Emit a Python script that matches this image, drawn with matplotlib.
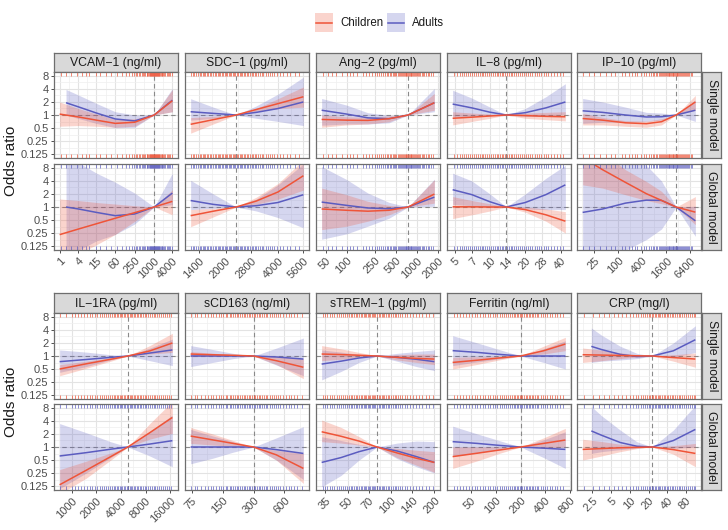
import numpy as np
import matplotlib
matplotlib.use("Agg")
import matplotlib.pyplot as plt
from matplotlib.ticker import FixedLocator, FixedFormatter, NullFormatter
from matplotlib.patches import Rectangle

plt.rcParams['font.family'] = ['Liberation Sans', 'DejaVu Sans']

# ---------------- data ----------------
GROUPS = ["Children", "Adults"]
MODELS = ["Single model", "Global model"]
Y_TICKS = [0.125, 0.25, 0.5, 1, 2, 4, 8]
Y_LABELS = ["0.125", "0.25", "0.5", "1", "2", "4", "8"]

# VCAM-1
VCAM_TITLE = "VCAM\u22121 (ng/ml)"
VCAM_TICKS = [1, 4, 15, 60, 250, 1000, 4000]
VCAM_REF = 1050
VCAM_X_CH = [1, 4, 15, 60, 250, 1050, 4000]
VCAM_X_AD = [1.6, 4, 15, 60, 250, 1050, 4000]
VCAM_S_CH = [[1.05, 0.90, 0.76, 0.64, 0.68, 1, 2.14], [0.55, 0.57, 0.55, 0.52, 0.55, 1, 1.19], [2.0, 1.41, 1.05, 0.79, 0.82, 1, 3.86]]
VCAM_S_AD = [[1.92, 1.54, 1.11, 0.81, 0.73, 1, 2.2], [1.0, 0.83, 0.64, 0.51, 0.52, 1, 1.19], [3.89, 2.89, 1.85, 1.19, 1.0, 1, 4.1]]
VCAM_G_CH = [[0.23, 0.31, 0.41, 0.55, 0.74, 1, 1.35], [0.054, 0.082, 0.134, 0.233, 0.467, 1, 0.66], [1.53, 1.41, 1.27, 1.17, 1.07, 1, 2.5]]
VCAM_G_AD = [[1.0, 0.9, 0.75, 0.63, 0.69, 1, 2.1], [0.0625, 0.1, 0.165, 0.233, 0.406, 1, 1.13], [16, 10.6, 6.06, 3.73, 2.1, 1, 6.06]]
VCAM_RUG = [1.1, 1.6, 2.3, 3.5, 5, 7, 9, 14, 20, 30, 45, 70, 100, 130, 170, 200, 230, 270, 300, 340, 380, 420,
            460, 500, 550, 600, 640, 680, 720, 760, 800, 830, 860, 890, 920, 950, 980, 1010, 1050, 1090, 1120,
            1160, 1200, 1250, 1300, 1350, 1400, 1480, 1550, 1620, 1700, 1800, 1900, 2050, 2200, 2400, 2600,
            2850, 3100, 3400, 3800]

# SDC-1
SDC_TITLE = "SDC\u22121 (pg/ml)"
SDC_TICKS = [1400, 2000, 2800, 4000, 5600]
SDC_REF = 2300
SDC_X_CH = [1260, 1700, 2300, 3000, 4000, 5600]
SDC_X_AD = [1260, 1700, 2300, 3000, 4000, 5600]
SDC_S_CH = [[0.61, 0.78, 1, 1.34, 1.83, 2.64], [0.38, 0.62, 1, 1.23, 1.41, 1.52], [0.87, 0.93, 1, 1.41, 2.38, 4.44]]
SDC_S_AD = [[1.19, 1.09, 1, 1.15, 1.41, 2.0], [0.76, 0.84, 1, 0.84, 0.71, 0.57], [2.38, 1.52, 1, 1.62, 3.03, 7.46]]
SDC_G_CH = [[0.63, 0.8, 1, 1.37, 2.22, 5.28], [0.35, 0.59, 1, 1.15, 1.52, 2.46], [0.87, 0.93, 1, 1.68, 3.48, 12.1]]
SDC_G_AD = [[1.41, 1.15, 1, 1.07, 1.27, 1.92], [0.87, 0.93, 1, 0.81, 0.57, 0.33], [4.14, 2.0, 1, 1.52, 3.25, 9.85]]
SDC_RUG = [1270, 1300, 1320, 1350, 1380, 1420, 1450, 1480, 1500, 1530, 1560, 1590, 1620, 1660, 1700, 1730,
           1760, 1800, 1830, 1870, 1900, 1940, 1980, 2020, 2050, 2090, 2120, 2160, 2200, 2240, 2280, 2330,
           2370, 2410, 2450, 2500, 2550, 2600, 2650, 2700, 2750, 2820, 2880, 2940, 3000, 3080, 3150, 3220,
           3300, 3400, 3500, 3600, 3700, 3820, 3950, 4100, 4300, 4500, 4700, 5000, 5300]

# Ang-2
ANG_TITLE = "Ang\u22122 (pg/ml)"
ANG_TICKS = [50, 100, 250, 500, 1000, 2000]
ANG_REF = 750
ANG_X_CH = [44, 100, 200, 400, 750, 1770]
ANG_X_AD = [44, 100, 200, 400, 750, 1770]
ANG_S_CH = [[0.79, 0.76, 0.75, 0.82, 1, 1.92], [0.52, 0.59, 0.62, 0.7, 1, 1.29], [1.0, 0.91, 0.88, 0.95, 1, 3.14]]
ANG_S_AD = [[1.29, 1.05, 0.86, 0.82, 1, 1.92], [0.58, 0.62, 0.62, 0.66, 1, 1.19], [2.41, 1.69, 1.13, 0.98, 1, 4.1]]
ANG_G_CH = [[0.9, 0.84, 0.8, 0.84, 1, 1.99], [0.3, 0.36, 0.47, 0.66, 1, 1.23], [2.73, 1.92, 1.35, 1.09, 1, 4.26]]
ANG_G_AD = [[1.3, 1.09, 0.95, 0.91, 1, 1.69], [0.18, 0.24, 0.36, 0.55, 1, 1.04], [8.6, 4.3, 2.1, 1.28, 1, 4.4]]
ANG_RUG = [46, 55, 62, 70, 85, 100, 110, 125, 140, 170, 190, 210, 230, 250, 270, 290, 310, 330, 350, 370, 390,
           410, 430, 450, 470, 490, 510, 530, 550, 570, 590, 610, 630, 650, 670, 690, 710, 730, 750, 770, 790,
           810, 835, 860, 885, 910, 940, 970, 1000, 1040, 1080, 1120, 1170, 1220, 1280, 1350, 1420, 1500,
           1600, 1700]

# IL-8
IL8_TITLE = "IL\u22128 (pg/ml)"
IL8_TICKS = [5, 7, 10, 14, 20, 28, 40]
IL8_REF = 13.8
IL8_X_CH = [4.8, 7, 10, 13.8, 20, 30, 44]
IL8_X_AD = [4.8, 7, 10, 13.8, 20, 30, 44]
IL8_S_CH = [[0.84, 0.89, 0.95, 1, 0.97, 0.93, 0.91], [0.59, 0.71, 0.84, 1, 0.84, 0.78, 0.73], [1.19, 1.11, 1.05, 1, 1.11, 1.15, 1.19]]
IL8_S_AD = [[1.79, 1.46, 1.16, 1, 1.13, 1.46, 2.0], [0.9, 0.93, 0.97, 1, 0.93, 0.93, 1.04], [3.73, 2.46, 1.52, 1, 1.41, 2.64, 5.28]]
IL8_G_CH = [[1.01, 1.01, 1.0, 1, 0.87, 0.66, 0.47], [0.54, 0.66, 0.81, 1, 0.76, 0.47, 0.25], [1.74, 1.41, 1.19, 1, 1.0, 0.9, 0.78]]
IL8_G_AD = [[2.51, 1.93, 1.32, 1, 1.27, 1.93, 3.25], [1.15, 1.07, 1.0, 1, 0.9, 0.87, 0.87], [6.06, 4, 2, 1, 2, 4.6, 9.2]]
IL8_RUG = [4.9, 5.2, 5.5, 5.8, 6.0, 6.3, 6.5, 6.8, 7.0, 7.3, 7.6, 7.9, 8.2, 8.5, 8.8, 9.1, 9.5, 9.8, 10.2,
           10.6, 11, 11.4, 11.8, 12.2, 12.6, 13.0, 13.5, 14.0, 14.5, 15.0, 15.5, 16.1, 16.7, 17.3, 18, 18.7,
           19.5, 20.2, 21, 22, 23, 24, 25, 26.2, 27.5, 28.8, 30, 31.5, 33, 35, 37, 39.5, 42]

# IP-10
IP10_TITLE = "IP\u221210 (pg/ml)"
IP10_TICKS = [25, 100, 400, 1600, 6400]
IP10_REF = 2800
IP10_X_CH = [12.6, 40, 150, 500, 1200, 2800, 8500]
IP10_X_AD = [12.6, 40, 150, 500, 1200, 2800, 8500]
IP10_S_CH = [[0.83, 0.76, 0.66, 0.63, 0.7, 1, 2.0], [0.59, 0.59, 0.55, 0.52, 0.59, 1, 1.29], [1.09, 0.88, 0.74, 0.72, 0.82, 1, 2.83]]
IP10_S_AD = [[1.25, 1.15, 1.0, 0.9, 0.91, 1, 1.29], [0.64, 0.68, 0.68, 0.71, 0.76, 1, 0.71], [2.41, 2.0, 1.52, 1.15, 1.11, 1, 2.22]]
IP10_G_CH = [[13.9, 7.26, 3.7, 2.03, 1.42, 1, 0.76], [3.25, 2.73, 1.92, 1.42, 1.19, 1, 0.39], [64, 18.4, 7.26, 3.89, 2.3, 1, 1.74]]
IP10_G_AD = [[0.75, 0.9, 1.23, 1.44, 1.42, 1, 0.48], [0.016, 0.044, 0.1, 0.177, 0.31, 1, 0.21], [64, 32, 16, 9.2, 4, 1, 1.04]]
IP10_RUG = [13, 18, 25, 35, 50, 65, 80, 120, 150, 180, 220, 260, 300, 360, 430, 500, 580, 650, 720, 800, 880,
            950, 1030, 1100, 1180, 1250, 1330, 1400, 1480, 1550, 1620, 1700, 1800, 1900, 2000, 2100, 2200,
            2300, 2400, 2500, 2620, 2750, 2870, 3000, 3150, 3300, 3500, 3700, 3900, 4100, 4350, 4600, 4900,
            5200, 5600, 6000, 6500, 7200]

# IL-1RA
IL1RA_TITLE = "IL\u22121RA (pg/ml)"
IL1RA_TICKS = [1000, 2000, 4000, 8000, 16000]
IL1RA_REF = 4850
IL1RA_X_CH = [710, 1500, 3000, 4850, 9000, 17000]
IL1RA_X_AD = [710, 1500, 3000, 4850, 9000, 17000]
IL1RA_S_CH = [[0.5, 0.66, 0.84, 1, 1.31, 2.0], [0.35, 0.52, 0.76, 1, 1.11, 1.21], [0.63, 0.76, 0.92, 1, 1.74, 3.34]]
IL1RA_S_AD = [[0.74, 0.83, 0.93, 1, 1.17, 1.38], [0.42, 0.57, 0.81, 1, 0.78, 0.6], [1.38, 1.23, 1.07, 1, 1.52, 2.46]]
IL1RA_G_CH = [[0.134, 0.29, 0.6, 1, 2.14, 4.82], [0.082, 0.19, 0.5, 1, 1.52, 2.07], [0.3, 0.47, 0.73, 1, 3.48, 11.3]]
IL1RA_G_AD = [[0.62, 0.74, 0.89, 1, 1.17, 1.4], [0.109, 0.25, 0.57, 1, 0.62, 0.35], [3.48, 2.14, 1.32, 1, 2.3, 5.46]]
IL1RA_RUG = [720, 850, 1000, 1100, 1200, 1300, 1400, 1520, 1650, 1780, 1900, 2050, 2200, 2350, 2500, 2650,
             2800, 2950, 3100, 3250, 3400, 3550, 3700, 3850, 4000, 4150, 4300, 4500, 4700, 4900, 5100, 5300,
             5500, 5750, 6000, 6250, 6500, 6800, 7100, 7450, 7800, 8200, 8600, 9000, 9500, 10000, 10500,
             11100, 11700, 12300, 13000, 13700, 14500, 15500, 16500]

# sCD163
SCD_TITLE = "sCD163 (ng/ml)"
SCD_TICKS = [75, 150, 300, 600]
SCD_REF = 300
SCD_X_CH = [73, 120, 190, 300, 500, 920]
SCD_X_AD = [73, 120, 190, 300, 500, 920]
SCD_S_CH = [[1.11, 1.07, 1.04, 1, 0.78, 0.55], [0.97, 0.98, 1.0, 1, 0.64, 0.3], [1.26, 1.16, 1.07, 1, 0.97, 0.87]]
SCD_S_AD = [[1.0, 1.0, 1.0, 1, 0.95, 0.85], [0.57, 0.71, 0.87, 1, 0.62, 0.35], [1.74, 1.41, 1.15, 1, 1.52, 2.6]]
SCD_G_CH = [[1.79, 1.46, 1.21, 1, 0.66, 0.32], [1.21, 1.11, 1.04, 1, 0.5, 0.144], [2.83, 2.0, 1.41, 1, 0.84, 0.71]]
SCD_G_AD = [[1.0, 1.0, 1.0, 1, 0.87, 0.71], [0.41, 0.55, 0.76, 1, 0.5, 0.177], [2.55, 1.8, 1.32, 1, 1.62, 2.95]]
SCD_RUG = [74, 80, 85, 92, 100, 107, 115, 122, 130, 137, 145, 152, 160, 167, 175, 182, 190, 197, 205, 212,
           220, 230, 240, 250, 260, 270, 280, 290, 300, 312, 325, 337, 350, 365, 380, 395, 410, 430, 450,
           475, 500, 525, 550, 585, 620, 660, 700, 750, 800, 900]

# sTREM-1
STREM_TITLE = "sTREM\u22121 (pg/ml)"
STREM_TICKS = [35, 50, 70, 100, 140, 200]
STREM_REF = 80
STREM_X_CH = [33, 45, 60, 80, 110, 150, 200]
STREM_X_AD = [33, 45, 60, 80, 110, 150, 200]
STREM_S_CH = [[1.11, 1.08, 1.04, 1, 0.93, 0.88, 0.85], [0.78, 0.84, 0.92, 1, 0.81, 0.71, 0.63], [1.74, 1.46, 1.21, 1, 1.07, 1.11, 1.11]]
STREM_S_AD = [[0.65, 0.76, 0.9, 1, 0.93, 0.84, 0.74], [0.28, 0.44, 0.71, 1, 0.76, 0.57, 0.46], [1.38, 1.23, 1.09, 1, 1.15, 1.27, 1.38]]
STREM_G_CH = [[2.25, 1.77, 1.37, 1, 0.73, 0.55, 0.44], [1.33, 1.23, 1.11, 1, 0.57, 0.38, 0.26], [4.2, 2.83, 1.74, 1, 0.93, 0.84, 0.78]]
STREM_G_AD = [[0.44, 0.57, 0.78, 1, 0.81, 0.6, 0.44], [0.12, 0.22, 0.5, 1, 0.54, 0.35, 0.25], [1.73, 1.41, 1.15, 1, 1.23, 1.37, 1.33]]
STREM_RUG = [33.5, 35, 36, 37.5, 39, 40.5, 42, 43.5, 45, 46.5, 48, 49.5, 51, 52.5, 54, 55.5, 57, 58.5, 60,
             61.5, 63, 64.5, 66, 67.5, 69, 70.5, 72, 73.5, 75, 76.5, 78, 80, 82, 84, 86, 88, 90, 92.5, 95,
             97.5, 100, 103, 106, 109, 112, 116, 120, 125, 130, 136, 142, 149, 156, 165, 175, 185, 195]

# Ferritin
FER_TITLE = "Ferritin (ng/ml)"
FER_TICKS = [50, 100, 200, 400, 800]
FER_REF = 200
FER_X_CH = [30, 60, 110, 200, 380, 700]
FER_X_AD = [30, 60, 110, 200, 380, 700]
FER_S_CH = [[0.71, 0.8, 0.9, 1, 1.32, 1.89], [0.5, 0.64, 0.81, 1, 1.11, 1.33], [0.93, 0.96, 0.98, 1, 1.68, 2.7]]
FER_S_AD = [[1.33, 1.21, 1.09, 1, 1.0, 1.0], [0.6, 0.73, 0.86, 1, 0.71, 0.5], [2.95, 2.0, 1.41, 1, 1.46, 2.25]]
FER_G_CH = [[0.6, 0.72, 0.85, 1, 1.21, 1.45], [0.32, 0.48, 0.71, 1, 0.97, 1.0], [1.0, 1.0, 1.0, 1, 1.62, 2.7]]
FER_G_AD = [[1.33, 1.21, 1.09, 1, 0.94, 0.88], [0.6, 0.73, 0.86, 1, 0.57, 0.32], [3.03, 2.0, 1.41, 1, 1.46, 2.25]]
FER_RUG = [31, 34, 37, 40, 44, 48, 52, 56, 60, 65, 70, 75, 80, 86, 92, 98, 105, 112, 120, 127, 135, 142, 150,
           157, 165, 172, 180, 187, 195, 202, 210, 220, 230, 240, 250, 262, 275, 287, 300, 315, 330, 350,
           370, 395, 420, 450, 480, 520, 560, 600, 650]

# CRP
CRP_TITLE = "CRP (mg/l)"
CRP_TICKS = [2.5, 5, 10, 20, 40, 80]
CRP_REF = 23
CRP_X_CH = [1.74, 3.5, 7, 13, 23, 50, 113]
CRP_X_AD = [2.4, 3.5, 7, 13, 23, 50, 113]
CRP_S_CH = [[1.07, 1.05, 1.03, 1.01, 1, 0.92, 0.85], [0.71, 0.78, 0.87, 0.95, 1, 0.76, 0.55], [1.53, 1.37, 1.19, 1.07, 1, 1.07, 1.17]]
CRP_S_AD = [[1.67, 1.41, 1.09, 0.97, 1, 1.32, 2.38], [0.71, 0.76, 0.81, 0.87, 1, 0.93, 1.21], [4.44, 3.03, 1.68, 1.15, 1, 2.0, 5.0]]
CRP_G_CH = [[0.88, 0.92, 0.96, 0.98, 1, 0.87, 0.71], [0.5, 0.62, 0.78, 0.92, 1, 0.68, 0.35], [1.51, 1.34, 1.16, 1.06, 1, 1.07, 1.21]]
CRP_G_AD = [[2.35, 1.87, 1.27, 1.04, 1, 1.41, 2.55], [0.71, 0.78, 0.87, 0.95, 1, 0.93, 1.0], [8.6, 5.28, 2.46, 1.32, 1, 2.46, 9.2]]
CRP_RUG = [1.8, 2.6, 3.2, 3.8, 4.6, 5.5, 6.5, 7.5, 8.7, 10, 11.2, 12.5, 13.7, 15, 16.2, 17.5, 18.7, 20, 21.2,
           22.5, 23.7, 25, 26.5, 28, 29.5, 31, 33, 35, 37, 39, 41.5, 44, 47, 50, 53.5, 57, 61, 65, 70, 75, 81,
           87, 93, 100, 106, 112]

PANELS = [
    (VCAM_TITLE, VCAM_TICKS, VCAM_REF, VCAM_X_CH, VCAM_X_AD, VCAM_S_CH, VCAM_S_AD, VCAM_G_CH, VCAM_G_AD, VCAM_RUG),
    (SDC_TITLE, SDC_TICKS, SDC_REF, SDC_X_CH, SDC_X_AD, SDC_S_CH, SDC_S_AD, SDC_G_CH, SDC_G_AD, SDC_RUG),
    (ANG_TITLE, ANG_TICKS, ANG_REF, ANG_X_CH, ANG_X_AD, ANG_S_CH, ANG_S_AD, ANG_G_CH, ANG_G_AD, ANG_RUG),
    (IL8_TITLE, IL8_TICKS, IL8_REF, IL8_X_CH, IL8_X_AD, IL8_S_CH, IL8_S_AD, IL8_G_CH, IL8_G_AD, IL8_RUG),
    (IP10_TITLE, IP10_TICKS, IP10_REF, IP10_X_CH, IP10_X_AD, IP10_S_CH, IP10_S_AD, IP10_G_CH, IP10_G_AD, IP10_RUG),
    (IL1RA_TITLE, IL1RA_TICKS, IL1RA_REF, IL1RA_X_CH, IL1RA_X_AD, IL1RA_S_CH, IL1RA_S_AD, IL1RA_G_CH, IL1RA_G_AD, IL1RA_RUG),
    (SCD_TITLE, SCD_TICKS, SCD_REF, SCD_X_CH, SCD_X_AD, SCD_S_CH, SCD_S_AD, SCD_G_CH, SCD_G_AD, SCD_RUG),
    (STREM_TITLE, STREM_TICKS, STREM_REF, STREM_X_CH, STREM_X_AD, STREM_S_CH, STREM_S_AD, STREM_G_CH, STREM_G_AD, STREM_RUG),
    (FER_TITLE, FER_TICKS, FER_REF, FER_X_CH, FER_X_AD, FER_S_CH, FER_S_AD, FER_G_CH, FER_G_AD, FER_RUG),
    (CRP_TITLE, CRP_TICKS, CRP_REF, CRP_X_CH, CRP_X_AD, CRP_S_CH, CRP_S_AD, CRP_G_CH, CRP_G_AD, CRP_RUG),
]

# ---------------- style / layout ----------------
RED = '#EF5438'
BLUE = '#5B5CC0'
FILL_ALPHA = 0.25
BORDER = '#6E6E6E'
STRIP_BG = '#D9D9D9'
GRID_MAJ = '#E3E3E3'
GRID_MIN = '#EFEFEF'
TICK_TXT = '#4D4D4D'

W, H = 728, 530
fig = plt.figure(figsize=(W / 100, H / 100), dpi=100)


def px_axes(x, y, w, h):
    return fig.add_axes([x / W, 1 - (y + h) / H, w / W, h / H])


COL_X = [54, 185, 316, 447, 577]
PW = 124
BLOCKS = [dict(strip=(53, 19), rows=[(72, 86), (164, 86)]),
          dict(strip=(293, 20), rows=[(313, 86), (404, 86)])]

YMIN, YMAX = 2 ** -3.3, 2 ** 3.3
y_minor = [2 ** (k + 0.5) for k in range(-4, 4)]

for b, block in enumerate(BLOCKS):
    for c in range(5):
        title, ticks, ref, x_ch, x_ad, s_ch, s_ad, g_ch, g_ad, rug = PANELS[b * 5 + c]
        allx = np.log2(np.array(list(x_ch) + list(x_ad), dtype=float))
        lo, hi = allx.min(), allx.max()
        pad = 0.05 * (hi - lo)
        xlim = (2 ** (lo - pad), 2 ** (hi + pad))
        lt = np.log2(ticks)
        x_minor = [2 ** ((lt[i] + lt[i + 1]) / 2) for i in range(len(lt) - 1)]
        x_minor = [2 ** (lt[0] - (lt[1] - lt[0]) / 2)] + x_minor + [2 ** (lt[-1] + (lt[-1] - lt[-2]) / 2)]

        st, sh = block['strip']
        sax = px_axes(COL_X[c], st, PW, sh)
        sax.set_facecolor(STRIP_BG)
        sax.set_xticks([]); sax.set_yticks([])
        for sp in sax.spines.values():
            sp.set_color(BORDER); sp.set_linewidth(0.9)
        sax.text(0.5, 0.47, title, ha='center', va='center', fontsize=8.8, color='#1A1A1A',
                 transform=sax.transAxes)

        for r, (top, h) in enumerate(block['rows']):
            ax = px_axes(COL_X[c], top, PW, h)
            ax.set_xscale('log', base=2)
            ax.set_yscale('log', base=2)
            ax.set_xlim(*xlim)
            ax.set_ylim(YMIN, YMAX)
            ax.xaxis.set_major_locator(FixedLocator(ticks))
            ax.xaxis.set_major_formatter(FixedFormatter(['%g' % t for t in ticks]))
            ax.xaxis.set_minor_locator(FixedLocator(x_minor))
            ax.xaxis.set_minor_formatter(NullFormatter())
            ax.yaxis.set_major_locator(FixedLocator(Y_TICKS))
            ax.yaxis.set_major_formatter(FixedFormatter(Y_LABELS))
            ax.yaxis.set_minor_locator(FixedLocator(y_minor))
            ax.yaxis.set_minor_formatter(NullFormatter())
            ax.grid(which='major', color=GRID_MAJ, lw=0.8, zorder=0)
            ax.grid(which='minor', color=GRID_MIN, lw=0.5, zorder=0)
            ax.set_axisbelow(True)
            for sp in ax.spines.values():
                sp.set_color(BORDER); sp.set_linewidth(0.9); sp.set_zorder(10)
            ax.tick_params(which='minor', length=0)
            ax.tick_params(which='major', length=2.5, width=0.6, color='#333333',
                           labelsize=8, labelcolor=TICK_TXT, pad=1.5)
            if c != 0:
                ax.tick_params(axis='y', which='major', length=0, labelleft=False)
            if r == 0:
                ax.tick_params(axis='x', which='major', length=0, labelbottom=False)
            else:
                for lab in ax.get_xticklabels():
                    lab.set_rotation(45)
                    lab.set_ha('right')
                    lab.set_va('top')
                    lab.set_rotation_mode('anchor')

            ax.axhline(1, color='#8A8A8A', lw=0.8, ls=(0, (4, 3)), zorder=1)
            ax.axvline(ref, color='#8A8A8A', lw=0.8, ls=(0, (4, 3)), zorder=1)

            ch, ad = (s_ch, s_ad) if r == 0 else (g_ch, g_ad)
            ax.fill_between(x_ad, ad[1], ad[2], color=BLUE, alpha=FILL_ALPHA, lw=0, zorder=2)
            ax.fill_between(x_ch, ch[1], ch[2], color=RED, alpha=FILL_ALPHA, lw=0, zorder=2)
            ax.plot(x_ad, ad[0], color=BLUE, lw=1.1, zorder=3, solid_capstyle='butt')
            ax.plot(x_ch, ch[0], color=RED, lw=1.1, zorder=3, solid_capstyle='butt')

            rc = RED if r == 0 else BLUE
            tr = ax.get_xaxis_transform()
            ax.vlines(rug, 0, 0.05, transform=tr, color=rc, lw=0.7, alpha=0.7, zorder=4)
            ax.vlines(rug, 0.95, 1.0, transform=tr, color=rc, lw=0.7, alpha=0.7, zorder=4)

            if c == 4:
                rax = px_axes(702, top, 19, h)
                rax.set_facecolor(STRIP_BG)
                rax.set_xticks([]); rax.set_yticks([])
                for sp in rax.spines.values():
                    sp.set_color(BORDER); sp.set_linewidth(0.9)
                rax.text(0.5, 0.5, MODELS[r], rotation=-90, ha='center', va='center',
                         fontsize=8.8, color='#1A1A1A', transform=rax.transAxes)

    r0 = block['rows'][0][0]
    r1 = block['rows'][1][0] + block['rows'][1][1]
    fig.text(11 / W, 1 - ((r0 + r1) / 2) / H, "Odds ratio", rotation=90, ha='center', va='center',
             fontsize=11, color='#1A1A1A')

# legend
lax = px_axes(0, 0, W, 45)
lax.set_xlim(0, W); lax.set_ylim(45, 0)
lax.axis('off')
for i, (g, col) in enumerate(zip(GROUPS, [RED, BLUE])):
    x0 = [315, 387][i]
    lax.add_patch(Rectangle((x0, 13), 18, 19, facecolor=col, alpha=FILL_ALPHA, edgecolor='none'))
    lax.plot([x0 + 1, x0 + 17], [22.5, 22.5], color=col, lw=1.1)
    lax.text(x0 + 25, 22.5, g, ha='left', va='center', fontsize=8.3, color='#1A1A1A')

fig.savefig('out.png', dpi=100)
